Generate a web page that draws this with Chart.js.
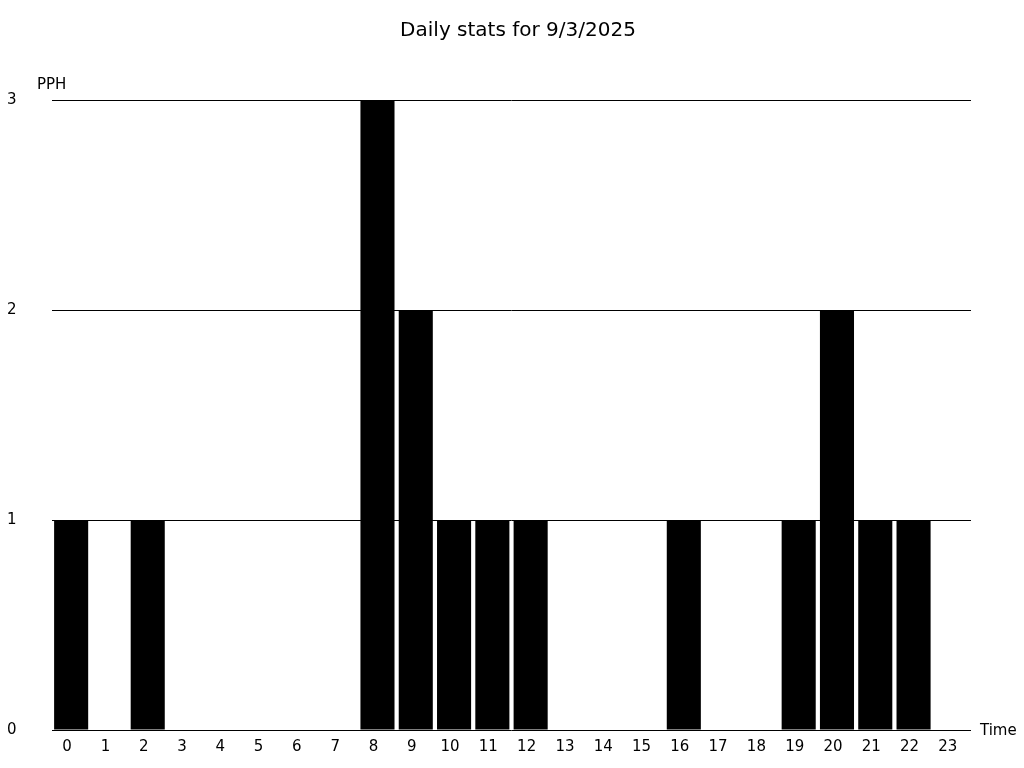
<!DOCTYPE html>
<html>
<head>
<meta charset="utf-8">
<script src="https://cdn.jsdelivr.net/npm/chart.js@4/dist/chart.umd.min.js"></script>
<style>
html,body{margin:0;padding:0;background:#fff;}
#wrap{width:1024px;height:768px;position:relative;}
</style>
</head>
<body>
<div id="wrap"><canvas id="c" width="1024" height="768"></canvas></div>
<script>
const titleText = "Daily stats for 9/3/2025";
const hours = ["0","1","2","3","4","5","6","7","8","9","10","11","12","13","14","15","16","17","18","19","20","21","22","23"];
const pph = [1,0,1,0,0,0,0,0,3,2,1,1,1,0,0,0,1,0,0,1,2,1,1,0];
const yTicks = [0,1,2,3];
const yAxisName = "PPH";
const xAxisName = "Time";

const FONT = "'DejaVu Sans', sans-serif";

const textPlugin = {
  id: 'textPlugin',
  afterDraw(chart) {
    const ctx = chart.ctx;
    const a = chart.chartArea;
    ctx.save();
    ctx.fillStyle = '#000';
    ctx.textBaseline = 'middle';
    ctx.font = "20px " + FONT;
    ctx.textAlign = 'center';
    ctx.fillText(titleText, 518, 31);
    ctx.font = "15px " + FONT;
    ctx.textAlign = 'left';
    ctx.fillText(yAxisName, 37, 85);
    ctx.fillText(xAxisName, a.right + 9, a.bottom + 1);
    ctx.restore();
  }
};

new Chart(document.getElementById('c'), {
  type: 'bar',
  data: {
    labels: hours,
    datasets: [{
      data: pph,
      backgroundColor: '#000',
      borderWidth: 0,
      barPercentage: 0.89,
      categoryPercentage: 1.0
    }]
  },
  options: {
    responsive: false,
    animation: false,
    layout: { padding: { left: 7, right: 53, top: 100, bottom: 0 } },
    plugins: {
      legend: { display: false },
      tooltip: { enabled: false },
      title: { display: false }
    },
    scales: {
      x: {
        grid: { display: false, drawTicks: false },
        border: { display: false },
        ticks: {
          color: '#000',
          font: { family: FONT, size: 15 },
          padding: 8,
          labelOffset: -4,
          maxRotation: 0,
          autoSkip: false
        },
        afterFit(scale) { scale.height = 38; }
      },
      y: {
        min: 0,
        max: 3,
        afterBuildTicks(scale) { scale.ticks = yTicks.map(v => ({ value: v })); },
        grid: { color: '#000', lineWidth: 1, drawTicks: false },
        border: { display: false },
        ticks: {
          color: '#000',
          font: { family: FONT, size: 15 },
          padding: 0,
          crossAlign: 'far'
        },
        afterFit(scale) { scale.width = 45; }
      }
    }
  },
  plugins: [textPlugin]
});
</script>
</body>
</html>
